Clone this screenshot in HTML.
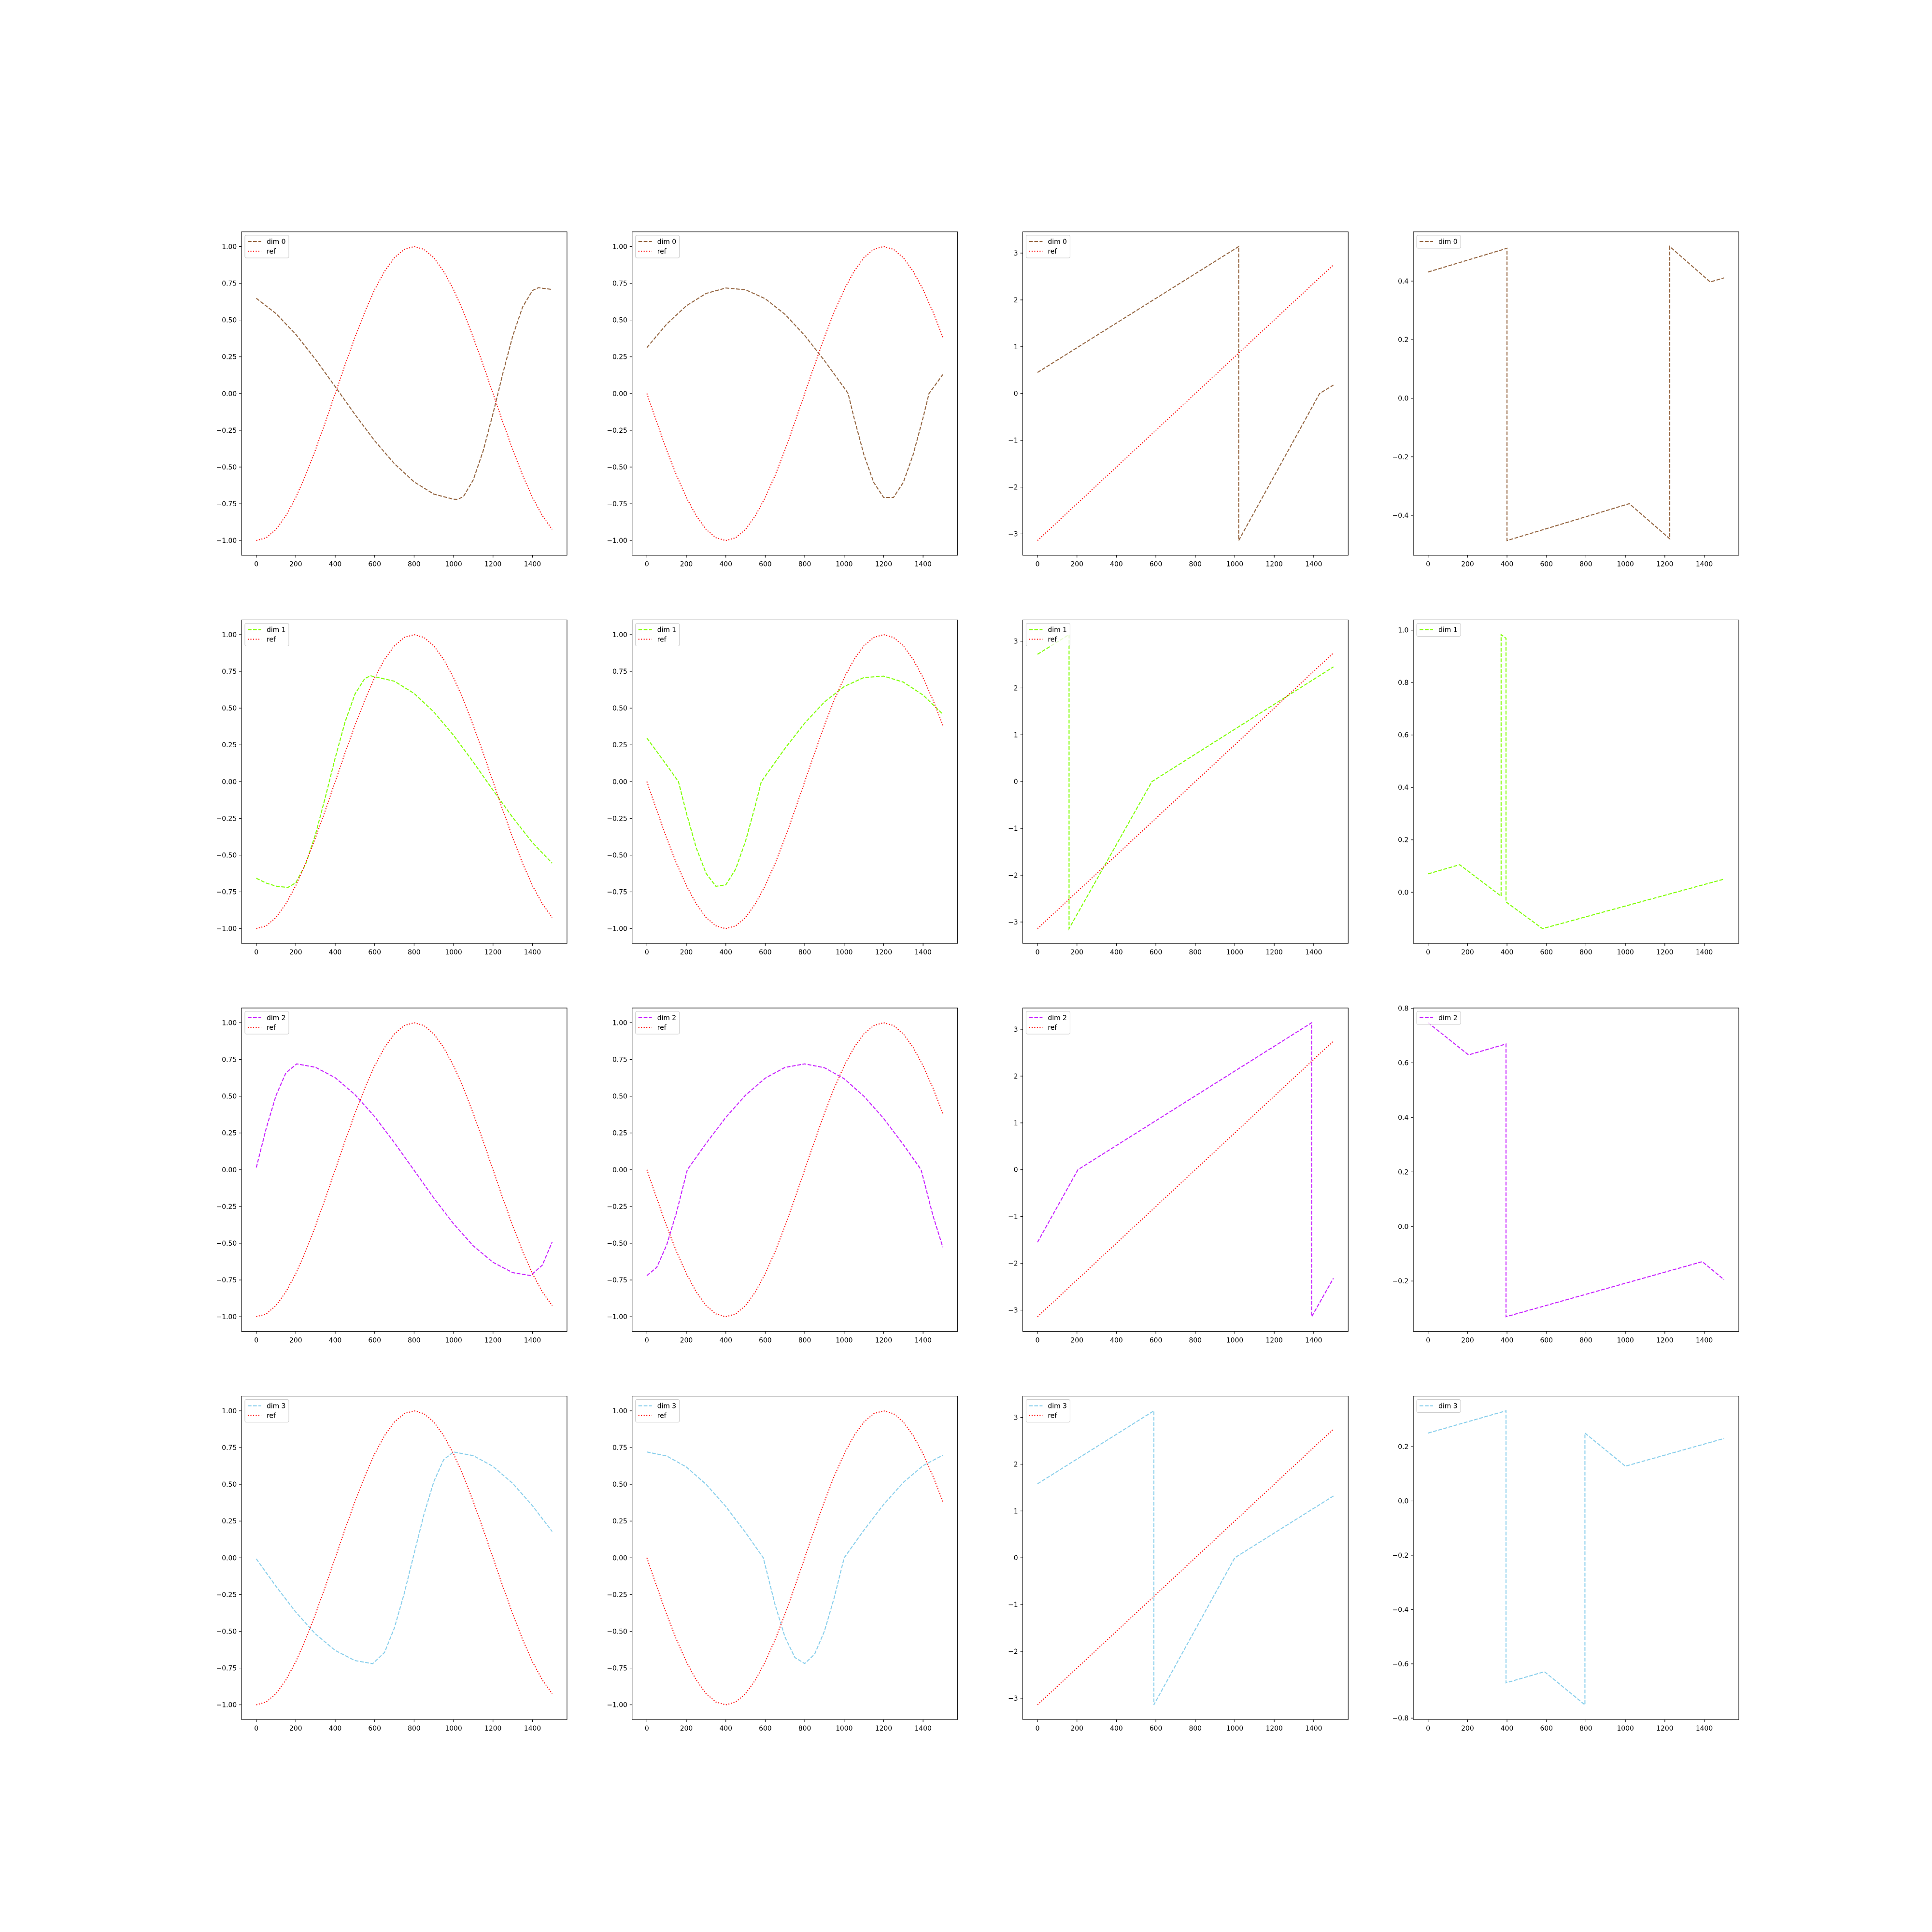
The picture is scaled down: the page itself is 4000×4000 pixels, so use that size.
<!DOCTYPE html>
<html><head><meta charset="utf-8">
<style>
html,body{margin:0;padding:0;background:#fff;}
svg{display:block;font-family:"DejaVu Sans","Liberation Sans",sans-serif;}
</style></head>
<body>
<svg id="fig" width="4000" height="4000" viewBox="0 0 4000 4000" xmlns="http://www.w3.org/2000/svg">
<rect x="0" y="0" width="4000" height="4000" fill="#fff"/>
</svg>
<script>
// ---------- data ----------
const dimNames = ["dim 0","dim 1","dim 2","dim 3"];
const dimColors = ["#94643f","#7fff00","#c71fff","#87ceeb"];

// column 1 (dim curves)
const c1x0 = [0,100,200,300,400,500,600,700,800,900,1000,1020,1050,1100,1150,1200,1250,1300,1350,1400,1430,1500];
const c1y0 = [0.648,0.544,0.403,0.233,0.047,-0.142,-0.321,-0.477,-0.601,-0.684,-0.719,-0.72,-0.701,-0.587,-0.39,-0.136,0.138,0.392,0.589,0.701,0.72,0.708];
const c2y0 = [0.313,0.472,0.597,0.681,0.718,0.706,0.645,0.539,0.395,0.224,0.039,0,-0.165,-0.416,-0.605,-0.707,-0.707,-0.604,-0.414,-0.164,0,0.129];

const c1x1 = [0,50,100,160,200,250,300,350,400,450,500,550,580,700,800,900,1000,1100,1200,1300,1400,1500];
const c1y1 = [-0.657,-0.69,-0.711,-0.72,-0.688,-0.562,-0.359,-0.106,0.161,0.406,0.595,0.702,0.72,0.683,0.6,0.474,0.315,0.133,-0.058,-0.244,-0.415,-0.555];
const c2y1 = [0.296,0.205,0.113,0,-0.212,-0.45,-0.624,-0.712,-0.702,-0.595,-0.405,-0.16,0,0.226,0.398,0.542,0.647,0.708,0.718,0.677,0.589,0.459];

const c1x2 = [0,50,100,150,205,300,400,500,600,700,800,900,1000,1100,1200,1300,1390,1450,1500];
const c1y2 = [0.015,0.28,0.505,0.659,0.72,0.697,0.626,0.511,0.361,0.184,-0.004,-0.193,-0.368,-0.518,-0.63,-0.7,-0.72,-0.649,-0.491];
const c2y2 = [-0.72,-0.664,-0.513,-0.291,0,0.179,0.356,0.507,0.623,0.696,0.72,0.694,0.619,0.5,0.349,0.171,0,-0.312,-0.527];

const c1x3 = [0,100,200,300,400,500,590,650,700,750,800,850,900,950,1000,1100,1200,1300,1400,1500];
const c1y3 = [-0.007,-0.194,-0.369,-0.518,-0.63,-0.699,-0.72,-0.644,-0.477,-0.242,0.029,0.296,0.519,0.668,0.72,0.695,0.622,0.506,0.354,0.179];
const c2y3 = [0.72,0.693,0.618,0.5,0.349,0.172,0,-0.32,-0.539,-0.678,-0.719,-0.656,-0.499,-0.269,0,0.188,0.363,0.513,0.627,0.698];

// column 3 (angle)
const c3x0 = [0,1020,1020,1430,1500], c3y0 = [0.45,3.14,-3.14,0,0.18];
const c3x1 = [0,160,160,580,1500],    c3y1 = [2.72,3.14,-3.14,0,2.45];
const c3x2 = [0,205,1390,1390,1500],  c3y2 = [-1.55,0,3.14,-3.14,-2.32];
const c3x3 = [0,590,590,1000,1500],   c3y3 = [1.58,3.14,-3.14,0,1.32];

// column 4
const c4x0 = [0,400,400,1020,1225,1225,1430,1500], c4y0 = [0.431,0.512,-0.486,-0.36,-0.48,0.518,0.397,0.411];
const c4x1 = [0,160,370,370,395,395,580,1500],     c4y1 = [0.07,0.105,-0.015,0.983,0.969,-0.037,-0.139,0.05];
const c4x2 = [0,205,395,395,1390,1500],            c4y2 = [0.747,0.629,0.669,-0.331,-0.129,-0.195];
const c4x3 = [0,395,395,590,795,795,1000,1500],    c4y3 = [0.25,0.332,-0.67,-0.629,-0.751,0.25,0.128,0.23];

// reference signals
const refX = [0,50,100,150,200,250,300,350,400,450,500,550,600,650,700,750,800,850,900,950,1000,1050,1100,1150,1200,1250,1300,1350,1400,1450,1500];
const refCos = [-1,-0.981,-0.924,-0.831,-0.707,-0.556,-0.383,-0.195,0,0.195,0.383,0.556,0.707,0.831,0.924,0.981,1,0.981,0.924,0.831,0.707,0.556,0.383,0.195,0,-0.195,-0.383,-0.556,-0.707,-0.831,-0.924];
const refSin = [0,-0.195,-0.383,-0.556,-0.707,-0.831,-0.924,-0.981,-1,-0.981,-0.924,-0.831,-0.707,-0.556,-0.383,-0.195,0,0.195,0.383,0.556,0.707,0.831,0.924,0.981,1,0.981,0.924,0.831,0.707,0.556,0.383];
const refAngX = [0,1500];
const refAng = [-3.1416,2.749];

// ticks
const xTicks = [0,200,400,600,800,1000,1200,1400];
const yTicksTrig = [-1,-0.75,-0.5,-0.25,0,0.25,0.5,0.75,1];
const yTicksAng = [-3,-2,-1,0,1,2,3];
const yTicksC4 = [[-0.4,-0.2,0,0.2,0.4],[0,0.2,0.4,0.6,0.8,1.0],[-0.2,0,0.2,0.4,0.6,0.8],[-0.8,-0.6,-0.4,-0.2,0,0.2]];

// ---------- drawing ----------
const NS = "http://www.w3.org/2000/svg";
const fig = document.getElementById("fig");
function mk(tag, attrs, parent){
  const e = document.createElementNS(NS, tag);
  for (const k in attrs) e.setAttribute(k, attrs[k]);
  (parent||fig).appendChild(e);
  return e;
}
const AX_W = 673.9, AX_H = 669.6, GAP_W = 134.8, GAP_H = 133.9;
function fmt(v, dec){ const s = Math.abs(v).toFixed(dec); return (v < -1e-9 ? "\u2212" : "") + s; }

function panel(r, c, series, ytick, dec){
  const left = 500 + c*(AX_W+GAP_W), top = 480 + r*(AX_H+GAP_H);
  const g = mk("g", {});
  
  
  let ymin = Infinity, ymax = -Infinity;
  series.forEach(s => s.y.forEach(v => { ymin = Math.min(ymin, v); ymax = Math.max(ymax, v); }));
  const yr = ymax - ymin; const y0 = ymin - 0.05*yr, y1 = ymax + 0.05*yr;
  const xs0 = -75, xs1 = 1575;
  const X = v => left + (v - xs0)/(xs1 - xs0)*AX_W;
  const Y = v => top + AX_H - (v - y0)/(y1 - y0)*AX_H;
  // clip
  const cid = "clip"+r+"_"+c;
  const cp = mk("clipPath", {id: cid}, g);
  mk("rect", {x:left, y:top, width:AX_W, height:AX_H}, cp);
  // series
  series.forEach((s, i) => {
    const d = s.x.map((xv, k) => (k ? "L" : "M") + X(xv).toFixed(2) + " " + Y(s.y[k]).toFixed(2)).join(" ");
    const p = mk("path", {d: d, fill: "none", stroke: s.color, "stroke-width": 2.08,
      "stroke-dasharray": s.dash, "clip-path": "url(#"+cid+")"}, g);
    
    
  });
  // spines
  const sp = mk("rect", {x:left, y:top, width:AX_W, height:AX_H, fill:"none", stroke:"#000", "stroke-width":1.1}, g);
  
  
  // x ticks
  xTicks.forEach(t => {
    const x = X(t);
    mk("line", {x1:x, x2:x, y1:top+AX_H, y2:top+AX_H+4.9, stroke:"#000", "stroke-width":1.1}, g);
    const tx = mk("text", {x:x, y:top+AX_H+23, "font-size":13.9, "text-anchor":"middle", fill:"#000"}, g);
    tx.textContent = String(t);
    
    
  });
  // y ticks
  ytick.forEach(t => {
    const y = Y(t);
    mk("line", {x1:left-4.9, x2:left, y1:y, y2:y, stroke:"#000", "stroke-width":1.1}, g);
    const ty = mk("text", {x:left-9.8, y:y+5, "font-size":13.9, "text-anchor":"end", fill:"#000"}, g);
    ty.textContent = fmt(t, dec);
    
    
  });
  // legend
  const n = series.length;
  const lg = mk("g", {}, g);
  
  
  mk("rect", {x:left+7, y:top+7, width:n>1?91:91, height:n>1?47:27, rx:3, fill:"#fff", "fill-opacity":0.8, stroke:"#ccc", "stroke-width":1.1}, lg);
  series.forEach((s, i) => {
    const yy = top + 20 + i*20;
    mk("line", {x1:left+13, x2:left+41, y1:yy, y2:yy, stroke:s.color, "stroke-width":2.08, "stroke-dasharray":s.dash}, lg);
    const lt = mk("text", {x:left+52, y:yy+5, "font-size":13.9, fill:"#000"}, lg);
    lt.textContent = s.name;
    
    
  });
}

const DASH = "7.7 3.3", DOT = "2.08 3.4";
const c1x = [c1x0,c1x1,c1x2,c1x3], c1y = [c1y0,c1y1,c1y2,c1y3], c2y = [c2y0,c2y1,c2y2,c2y3];
const c3x = [c3x0,c3x1,c3x2,c3x3], c3y = [c3y0,c3y1,c3y2,c3y3];
const c4x = [c4x0,c4x1,c4x2,c4x3], c4y = [c4y0,c4y1,c4y2,c4y3];
for (let r = 0; r < 4; r++){
  const col = dimColors[r], nm = dimNames[r];
  panel(r, 0, [{name:nm, x:c1x[r], y:c1y[r], color:col, dash:DASH},{name:"ref", x:refX, y:refCos, color:"#ff0000", dash:DOT}], yTicksTrig, 2);
  panel(r, 1, [{name:nm, x:c1x[r], y:c2y[r], color:col, dash:DASH},{name:"ref", x:refX, y:refSin, color:"#ff0000", dash:DOT}], yTicksTrig, 2);
  panel(r, 2, [{name:nm, x:c3x[r], y:c3y[r], color:col, dash:DASH},{name:"ref", x:refAngX, y:refAng, color:"#ff0000", dash:DOT}], yTicksAng, 0);
  panel(r, 3, [{name:nm, x:c4x[r], y:c4y[r], color:col, dash:DASH}], yTicksC4[r], 1);
}
</script>
</body></html>
